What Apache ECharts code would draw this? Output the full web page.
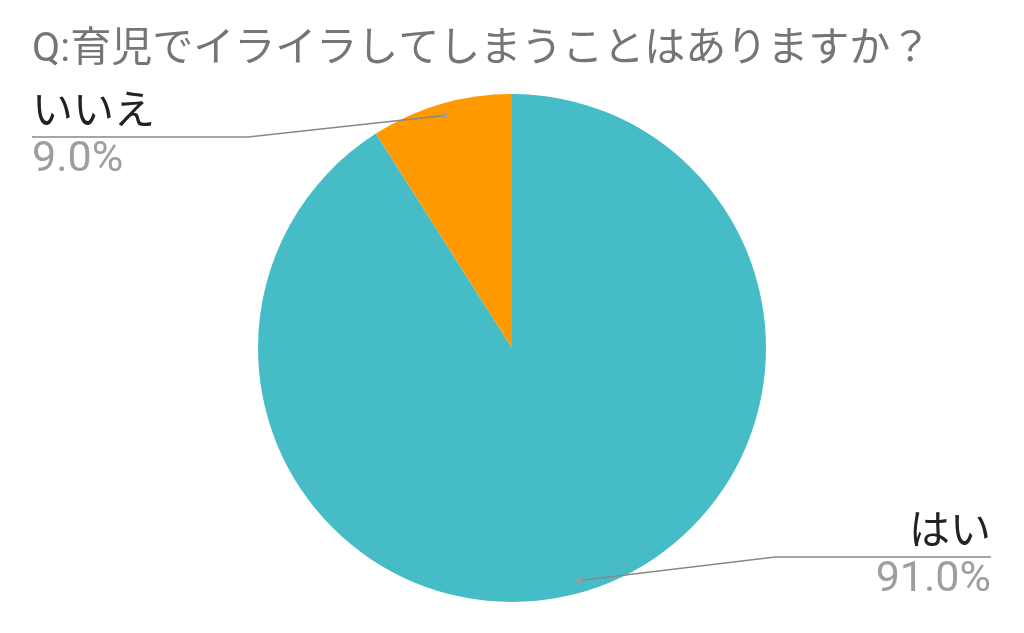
<!DOCTYPE html>
<html>
<head>
<meta charset="utf-8">
<script src="https://cdn.jsdelivr.net/npm/echarts@6/dist/echarts.min.js"></script>
<style>
html,body{margin:0;padding:0;background:#fff;}
#chart{width:1024px;height:633px;}
</style>
</head>
<body>
<div id="chart"></div>
<script>
const titleText = 'Q:育児でイライラしてしまうことはありますか？';
const categories = ['はい', 'いいえ'];
const values = [91.0, 9.0];
const colors = ['#46BDC6', '#FF9900'];

const FONT = 'Roboto, "Noto Sans CJK JP", sans-serif';
const CENTER = [512, 348];
const RADIUS = 254;
const ANCHOR_R = 242;
// label placement (styling/layout only)
const labelPlace = [
  { lineY: 557, bendX: 775, edgeX: 991, align: 'right' },
  { lineY: 137, bendX: 248, edgeX: 32, align: 'left' }
];

// mid-angle positions (in value units) derived from the data
const total = values.reduce((a, b) => a + b, 0);
let acc = 0;
const anchorPts = values.map(v => { const m = acc + v / 2; acc += v; return [ANCHOR_R, m]; });

const pieData = categories.map((c, i) => ({ name: c, value: values[i], itemStyle: { color: colors[i] } }));

const chart = echarts.init(document.getElementById('chart'), null, { renderer: 'canvas' });
chart.setOption({
  backgroundColor: '#ffffff',
  animation: false,
  title: {
    text: titleText,
    left: 32,
    top: 30,
    padding: 0,
    textStyle: { color: '#757575', fontSize: 41, fontWeight: 'normal', fontFamily: FONT }
  },
  polar: { center: CENTER, radius: RADIUS },
  angleAxis: { type: 'value', min: 0, max: total, startAngle: 90, clockwise: true, show: false },
  radiusAxis: { type: 'value', min: 0, max: RADIUS, show: false },
  series: [{
    type: 'pie',
    center: CENTER,
    radius: RADIUS,
    startAngle: 90,
    clockwise: true,
    z: 1,
    data: pieData,
    itemStyle: { borderWidth: 0 },
    emphasis: { disabled: true },
    label: { show: false },
    labelLine: { show: false }
  }, {
    type: 'pie',
    center: CENTER,
    radius: ANCHOR_R,
    startAngle: 90,
    clockwise: true,
    z: 3,
    silent: true,
    data: categories.map((c, i) => ({ name: c, value: values[i] })),
    itemStyle: { color: 'rgba(0,0,0,0)', borderWidth: 0 },
    emphasis: { disabled: true },
    label: {
      show: true,
      position: 'outside',
      formatter: p => '{n|' + p.name + '}\n{p|' + values[p.dataIndex].toFixed(1) + '%}',
      rich: {
        n: { color: '#222222', fontSize: 41, lineHeight: 46, fontFamily: FONT },
        p: { color: '#9E9E9E', fontSize: 43, lineHeight: 46, fontFamily: FONT }
      }
    },
    labelLine: { show: true, lineStyle: { color: '#888888', width: 1.5 } },
    labelLayout: function (params) {
      const lp = labelPlace[params.dataIndex];
      const p0 = params.labelLinePoints ? params.labelLinePoints[0] : null;
      return {
        x: lp.edgeX,
        y: lp.lineY,
        align: lp.align,
        verticalAlign: 'middle',
        labelLinePoints: p0 ? [p0, [lp.bendX, lp.lineY], [lp.edgeX, lp.lineY]] : undefined
      };
    }
  }, {
    type: 'scatter',
    coordinateSystem: 'polar',
    z: 4,
    silent: true,
    symbol: 'circle',
    symbolSize: 6,
    itemStyle: { color: '#9E9E9E' },
    data: anchorPts
  }]
});
</script>
</body>
</html>
